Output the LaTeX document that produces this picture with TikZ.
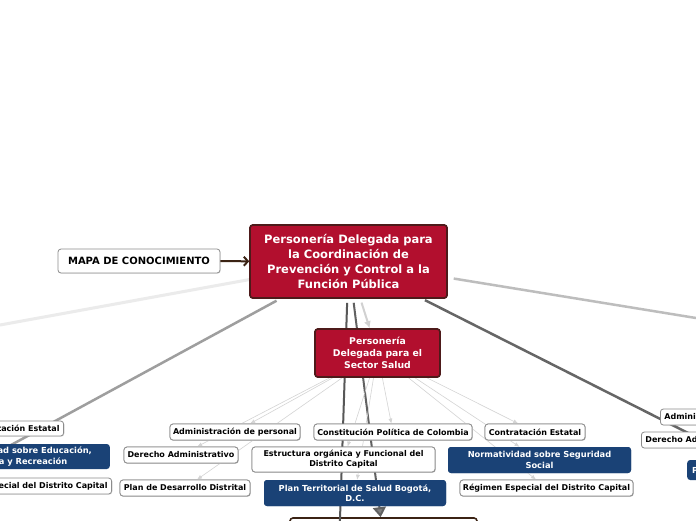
\documentclass[tikz,border=0pt]{standalone}
\usepackage{fontspec}
\setmainfont{DejaVu Sans}
\usetikzlibrary{arrows.meta,shadows}
\definecolor{mred}{HTML}{B20F2E}
\definecolor{mredb}{HTML}{4D1A1A}
\definecolor{mblue}{HTML}{1A4276}
\definecolor{wborder}{HTML}{8C8C8C}
\definecolor{arrowbrown}{HTML}{3B2314}
\begin{document}
\begin{tikzpicture}[x=1pt,y=-1pt,
  base/.style={rounded corners=3pt, inner sep=0pt, align=center, font=\bfseries\fontsize{8}{10}\selectfont},
  wbox/.style={base, draw=wborder, fill=white, line width=0.8pt, text=black,
     drop shadow={shadow xshift=0.7pt, shadow yshift=-0.7pt, opacity=0.25}},
  bbox/.style={base, fill=mblue, text=white, font=\bfseries\fontsize{8.3}{10.5}\selectfont},
  rbox/.style={base, fill=mred, draw=mredb, line width=1.6pt, text=white},
  thinlink/.style={draw=black!17, line width=0.6pt, -{Latex[length=5pt,width=4pt]}},
]
\clip (0,0) rectangle (696,520);
\fill[white] (0,0) rectangle (696,520);

% nodes (positions)
\path
 (348.5,261.5) node[rbox, minimum width=197, minimum height=73, font=\bfseries\fontsize{11.5}{15}\selectfont] (main)
   {Personería Delegada para\\la Coordinación de\\Prevención y Control a la\\Función Pública}
 (377.5,353) node[rbox, minimum width=125, minimum height=48, font=\bfseries\fontsize{9.3}{12}\selectfont] (salud)
   {Personería\\Delegada para el\\Sector Salud}
 (383.5,540) node[base, draw=arrowbrown, fill=white, line width=1.6pt, minimum width=187, minimum height=44] (bot) {}
 ;
\coordinate (cL) at (0,325);
\coordinate (cLB) at (0,451);
\coordinate (cR) at (696,318);
\coordinate (cRB) at (700,439);
\coordinate (cB1) at (336,640);

% connectors from main (behind nodes)
\draw[draw=black!8, line width=3pt, shorten <=5pt] (main.center) -- (cL);
\draw[draw=black!38, line width=2.5pt, shorten <=4pt] (main) -- (cLB);
\draw[draw=black!26, line width=2.5pt, shorten <=6pt] (main) -- (cR);
\draw[draw=black!60, line width=2.5pt, shorten <=3pt] (main) -- (cRB);
\draw[draw=black!66, line width=2pt, shorten <=4pt] (main) -- (cB1);
\draw[draw=black!62, line width=2pt, shorten <=4pt, -{Triangle[length=10pt,width=13pt,fill=black!50]}] (main) -- (bot);
\draw[draw=black!18, line width=2pt, shorten <=4pt, -{Latex[length=7pt,width=7pt]}] (main) -- (salud);

% children of salud
\path
 (235,432) node[wbox, minimum width=130, minimum height=16] (adminp) {Administración de personal}
 (393,432) node[wbox, minimum width=158, minimum height=16] (const) {Constitución Política de Colombia}
 (535,432) node[wbox, minimum width=100, minimum height=16] (contr) {Contratación Estatal}
 (181,455) node[wbox, minimum width=114, minimum height=16] (dera) {Derecho Administrativo}
 (343.5,459.5) node[wbox, minimum width=183, minimum height=25] (estr) {Estructura orgánica y Funcional del\\Distrito Capital}
 (539.5,460) node[bbox, minimum width=183, minimum height=26] (normss) {Normatividad sobre Seguridad\\Social}
 (185,488) node[wbox, minimum width=130, minimum height=16] (pland) {Plan de Desarrollo Distrital}
 (355,493) node[bbox, minimum width=182, minimum height=26] (plant) {Plan Territorial de Salud Bogotá,\\D.C.}
 (546.5,488) node[wbox, minimum width=173, minimum height=16] (reg) {Régimen Especial del Distrito Capital}
 ;
\foreach \c in {adminp,const,contr,dera,estr,normss,pland,plant,reg}
  \draw[thinlink] (salud) -- (\c);

% redraw children on top of thin links
\path
 (235,432) node[wbox, minimum width=130, minimum height=16] {Administración de personal}
 (393,432) node[wbox, minimum width=158, minimum height=16] {Constitución Política de Colombia}
 (535,432) node[wbox, minimum width=100, minimum height=16] {Contratación Estatal}
 (181,455) node[wbox, minimum width=114, minimum height=16] {Derecho Administrativo}
 (343.5,459.5) node[wbox, minimum width=183, minimum height=25] {Estructura orgánica y Funcional del\\Distrito Capital}
 (539.5,460) node[bbox, minimum width=183, minimum height=26] {Normatividad sobre Seguridad\\Social}
 (185,488) node[wbox, minimum width=130, minimum height=16] {Plan de Desarrollo Distrital}
 (355,493) node[bbox, minimum width=182, minimum height=26] {Plan Territorial de Salud Bogotá,\\D.C.}
 (546.5,488) node[wbox, minimum width=173, minimum height=16] {Régimen Especial del Distrito Capital}
 ;

% left partial cluster
\node[wbox, anchor=east, inner xsep=4pt, minimum height=15] (lcontr) at (64,428.5) {Contratación Estatal};
\node[bbox, anchor=east, inner xsep=18pt, minimum height=25] (lnorm) at (110,456.5) {Normatividad sobre Educación,\\Cultura y Recreación};
\node[wbox, anchor=east, inner xsep=4pt, minimum height=16] (lreg) at (112,486) {Régimen Especial del Distrito Capital};

% right partial cluster
\node[wbox, anchor=west, inner xsep=4pt, minimum height=16] (radmin) at (660,417) {Administración de personal};
\node[wbox, anchor=west, inner xsep=4pt, minimum height=16] (rder) at (641,440) {Derecho Administrativo};
\node[bbox, anchor=west, inner xsep=5pt, minimum height=20] (rplan) at (687,470) {Plan Territorial de Salud};

% top nodes
\node[rbox, minimum width=197, minimum height=73, font=\bfseries\fontsize{11.5}{15}\selectfont] at (main.center)
   {Personería Delegada para\\la Coordinación de\\Prevención y Control a la\\Función Pública};
\node[rbox, minimum width=125, minimum height=48, font=\bfseries\fontsize{9.3}{12}\selectfont] at (salud.center)
   {Personería\\Delegada para el\\Sector Salud};
\node[wbox, minimum width=162, minimum height=24, font=\bfseries\fontsize{10}{12}\selectfont] (mapa) at (139,261) {MAPA DE CONOCIMIENTO};
\draw[draw=arrowbrown, line width=2pt, -{Straight Barb[length=4pt,width=9pt]}] (mapa) -- (main);
\end{tikzpicture}
\end{document}
